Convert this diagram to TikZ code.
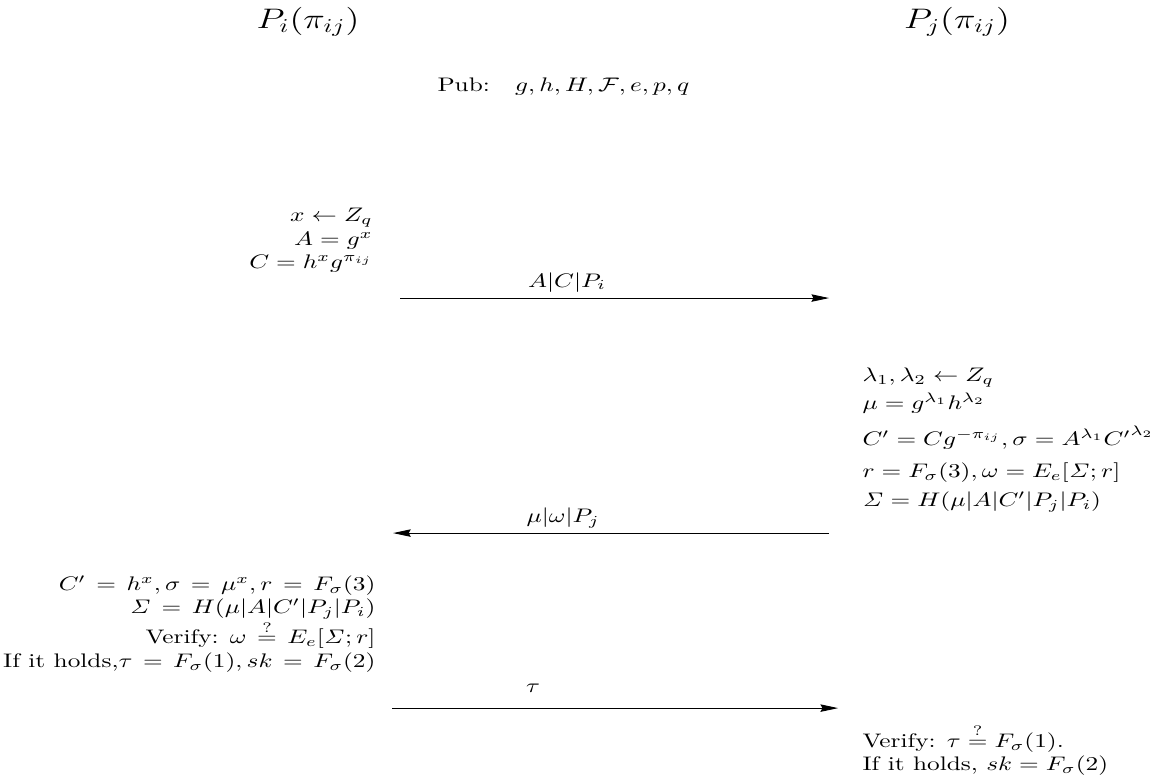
\documentclass[tikz,border=0pt]{standalone}
\usepackage{amsmath,amssymb}
\usetikzlibrary{arrows.meta, positioning}

\newcommand{\widemath}{\thickmuskip=7.5mu plus 5mu\relax}

\begin{document}
\begin{tikzpicture}[
    x=0.3953pt, y=-0.51pt, xscale=1.29,
    party/.style={font=\Large, inner sep=0pt, transform shape},
    calc/.style={font=\normalsize, inner sep=0pt, transform shape, text width=200pt},
    msg/.style={-{Stealth[length=9pt, width=3.8pt, inset=1pt]}, line width=0.45pt},
    lbl/.style={font=\normalsize, inner sep=0pt, anchor=base, transform shape}
]
    \useasboundingbox (0,0) rectangle (1157,782);

    % Teilnehmer
    \node[party, anchor=base] (pi) at (308, 28) {$P_i(\pi_{ij})$};
    \node[party, anchor=base] (pj) at (957, 28) {$P_j(\pi_{ij})$};
    \node[lbl, anchor=base west] (pub) at (437, 91) {Pub:\quad $g, h, H, \mathcal{F}, e, p, q$};

    % Schritt 1
    \node[calc, anchor=north east, align=flush right] (si1) at (373, 208)
        {$x \leftarrow Z_q$\\ $A = g^x$\\ $C = h^x g^{\pi_{ij}}$};
    \coordinate (m1s) at (400, 298);
    \coordinate (m1e) at (829, 298);
    \draw[msg] (m1s) -- (m1e);
    \node[lbl] (l1) at (567, 287) {$A|C|P_i$};

    % Schritt 2
    \node[calc, anchor=north west, align=flush left] (sj1) at (862, 367)
        {$\lambda_1, \lambda_2 \leftarrow Z_q$\\[2.5pt]
         $\mu = g^{\lambda_1} h^{\lambda_2}$\\[6.5pt]
         $C' = C g^{-\pi_{ij}}, \sigma = A^{\lambda_1} {C'}^{\lambda_2}$\\[4pt]
         $r = F_\sigma(3), \omega = E_e[\mathit{\Sigma}; r]$\\[3pt]
         $\mathit{\Sigma} = H(\mu|A|C'|P_j|P_i)$};
    \coordinate (m2s) at (829, 533);
    \coordinate (m2e) at (393, 533);
    \draw[msg] (m2s) -- (m2e);
    \node[lbl] (l2) at (563, 522) {$\mu|\omega|P_j$};

    % Schritt 3
    \node[calc, anchor=north east, align=flush right, font=\normalsize\widemath] (si2) at (376, 575)
        {$C' = h^x, \sigma = \mu^x, r = F_\sigma(3)$\\
         $\mathit{\Sigma} = H(\mu|A|C'|P_j|P_i)$\\
         Verify: $\omega \stackrel{?}{=} E_e[\mathit{\Sigma}; r]$\\
         If it holds,$\tau = F_\sigma(1), sk = F_\sigma(2)$};
    \coordinate (m3s) at (392, 708);
    \coordinate (m3e) at (838, 708);
    \draw[msg] (m3s) -- (m3e);
    \node[lbl] (l3) at (533, 692) {$\tau$};

    % Schritt 4
    \node[calc, anchor=north west, align=flush left] (sj2) at (862, 724)
        {Verify: $\tau \stackrel{?}{=} F_\sigma(1)$.\\
         If it holds, $sk = F_\sigma(2)$};
\end{tikzpicture}
\end{document}
